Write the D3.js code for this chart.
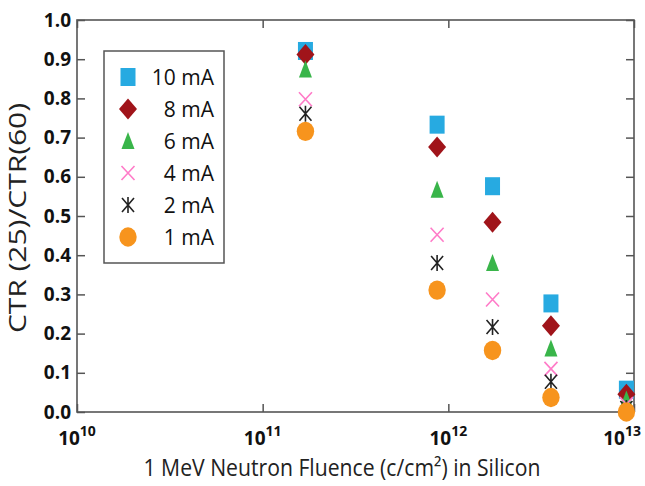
<!DOCTYPE html>
<html><head><meta charset="utf-8">
<script src="https://cdn.jsdelivr.net/npm/d3@7"></script>
<style>
html,body{margin:0;padding:0;background:#fff;}
svg{display:block;font-family:"Open Sans","Noto Sans",sans-serif;}
</style></head>
<body>
<svg id="c" width="645" height="486"></svg>
<script>
// ---- data ----
const fluence = [1.7e11, 8.7e11, 1.73e12, 3.57e12, 9.1e12];
const seriesNames = ["10 mA", "8 mA", "6 mA", "4 mA", "2 mA", "1 mA"];
const v10mA = [0.921, 0.733, 0.576, 0.277, 0.057];
const v8mA  = [0.912, 0.676, 0.484, 0.220, 0.045];
const v6mA  = [0.874, 0.567, 0.380, 0.162, 0.032];
const v4mA  = [0.798, 0.452, 0.287, 0.110, 0.020];
const v2mA  = [0.761, 0.380, 0.217, 0.077, 0.010];
const v1mA  = [0.716, 0.311, 0.157, 0.037, 0.000];
const yTicks = [0,0.1,0.2,0.3,0.4,0.5,0.6,0.7,0.8,0.9,1.0];
const xTicks = [1e10, 1e11, 1e12, 1e13];
const xTickExp = ["10","11","12","13"];

const seriesValues = [v10mA, v8mA, v6mA, v4mA, v2mA, v1mA];
const shapes = ["square","diamond","triangle","x","asterisk","circle"];
const colors = ["#27AAE1","#A0141A","#39B54A","#FF7BC8","#222222","#F7941D"];

const svg = d3.select("#c");
const L = 77, R = 634, T = 20, B = 412;
const x = d3.scaleLog().domain([1e10,1e13]).range([L,R]);
const y = d3.scaleLinear().domain([0,1]).range([B,T]);

// axes (ticks inward on all sides)
const frameColor = "#555";
const gl = svg.append("g").attr("transform",`translate(${L},0)`)
  .call(d3.axisLeft(y).tickValues(yTicks).tickSize(-8).tickPadding(6).tickFormat(d3.format(".1f")));
const gr = svg.append("g").attr("transform",`translate(${R},0)`)
  .call(d3.axisRight(y).tickValues(yTicks).tickSize(-8).tickFormat(""));
const gb = svg.append("g").attr("transform",`translate(0,${B})`)
  .call(d3.axisBottom(x).tickValues(xTicks).tickSize(-8).tickFormat(""));
const gt = svg.append("g").attr("transform",`translate(0,${T})`)
  .call(d3.axisTop(x).tickValues(xTicks).tickSize(-8).tickFormat(""));
[gl,gr,gb,gt].forEach(g=>{
  g.select(".domain").remove();
  g.selectAll(".tick line").attr("stroke",frameColor).attr("stroke-width",1.5);
});
gl.selectAll(".tick text").attr("font-size",19).attr("font-weight","bold").attr("fill","#111")
  .attr("font-family","'Open Sans',sans-serif");

// x tick labels with superscripts (kept inside the picture)
xTicks.forEach((t,i)=>{
  const tx = svg.append("text").attr("x",x(t)).attr("y",445).attr("text-anchor","middle")
    .attr("font-size",19).attr("font-weight","bold").attr("fill","#111");
  tx.append("tspan").text("10");
  tx.append("tspan").attr("font-size",14).attr("dy",-9).text(xTickExp[i]);
  const bb = tx.node().getBBox();
  if (bb.x + bb.width > 641) tx.attr("x", x(t) - (bb.x + bb.width - 641));
});

// frame
svg.append("rect").attr("x",L).attr("y",T).attr("width",R-L).attr("height",B-T)
  .attr("fill","none").attr("stroke",frameColor).attr("stroke-width",1.6);

// axis titles
svg.append("text").attr("x",342).attr("y",476).attr("text-anchor","middle")
  .attr("font-size",23).attr("fill","#222").attr("textLength",397).attr("lengthAdjust","spacingAndGlyphs")
  .text("1 MeV Neutron Fluence (c/cm²) in Silicon");

svg.append("text").attr("transform","translate(26,218) rotate(-90)").attr("text-anchor","middle")
  .attr("font-size",24).attr("fill","#222").attr("textLength",230).attr("lengthAdjust","spacingAndGlyphs")
  .text("CTR (25)/CTR(60)");

// marker drawing
function drawMarker(g, shape, color, cx, cy){
  if(shape==="square"){
    g.append("rect").attr("x",cx-7.5).attr("y",cy-9).attr("width",15).attr("height",18).attr("fill",color);
  } else if(shape==="diamond"){
    g.append("path").attr("d",`M${cx},${cy-10.5}L${cx+9},${cy}L${cx},${cy+10.5}L${cx-9},${cy}Z`).attr("fill",color);
  } else if(shape==="triangle"){
    g.append("path").attr("d",`M${cx},${cy-9}L${cx+6.5},${cy+8}L${cx-6.5},${cy+8}Z`).attr("fill",color);
  } else if(shape==="x"){
    g.append("path").attr("d",`M${cx-6.5},${cy-7}L${cx+6.5},${cy+7}M${cx+6.5},${cy-7}L${cx-6.5},${cy+7}`)
      .attr("stroke",color).attr("stroke-width",1.6).attr("fill","none");
  } else if(shape==="asterisk"){
    g.append("path").attr("d",`M${cx-6},${cy-7}L${cx+6},${cy+7}M${cx+6},${cy-7}L${cx-6},${cy+7}M${cx},${cy-8}L${cx},${cy+8}`)
      .attr("stroke",color).attr("stroke-width",1.6).attr("fill","none");
  } else if(shape==="circle"){
    g.append("ellipse").attr("cx",cx).attr("cy",cy).attr("rx",8.7).attr("ry",9.7).attr("fill",color);
  }
}

// data points
const pts = svg.append("g");
seriesValues.forEach((vals,si)=>{
  const g = pts.append("g");
  vals.forEach((v,i)=> drawMarker(g, shapes[si], colors[si], x(fluence[i]), y(v)));
});

// legend
const lg = svg.append("g");
lg.append("rect").attr("x",104).attr("y",51).attr("width",120).attr("height",212)
  .attr("fill","#fff").attr("stroke",frameColor).attr("stroke-width",1.5);
seriesNames.forEach((n,i)=>{
  const cy = 77 + i*32;
  drawMarker(lg, shapes[i], colors[i], 128, cy);
  lg.append("text").attr("x",214).attr("y",cy+7.5).attr("text-anchor","end")
    .attr("font-size",21).attr("fill","#111").text(n);
});
</script>
</body></html>
